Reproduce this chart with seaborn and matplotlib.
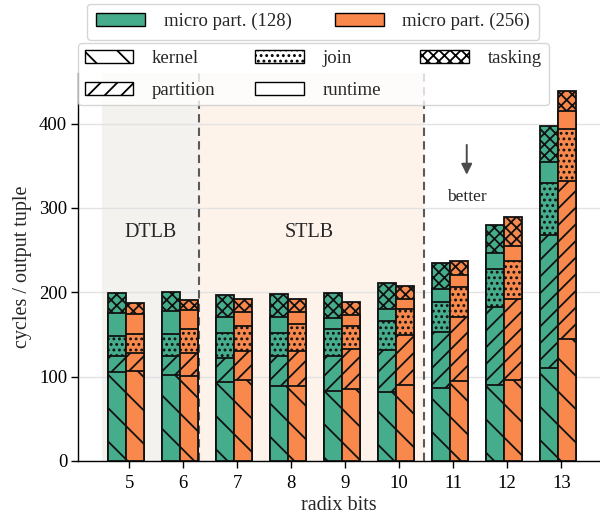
import numpy as np
import pandas as pd
import matplotlib
matplotlib.use('Agg')
import matplotlib.pyplot as plt
import seaborn as sns
from matplotlib.patches import Patch

radix_bits = [5, 6, 7, 8, 9, 10, 11, 12, 13]
variants = ['micro part. (128)', 'micro part. (256)']
components = ['kernel', 'partition', 'join', 'runtime', 'tasking']

# cycles per output tuple, one list per component
kernel_128 = [106, 102, 94, 89, 83, 82, 87, 90, 110]
partition_128 = [18.5, 22, 28, 35, 42, 50, 65.5, 93, 158]
join_128 = [23.5, 26, 30, 28, 31, 33.5, 36.5, 45, 62]
runtime_128 = [28, 28, 19, 19, 14, 14.5, 15, 18, 24]
tasking_128 = [23, 22, 26, 27, 29, 31, 31, 34, 43]

kernel_256 = [107, 101, 96, 89, 85, 90, 95, 96, 145]
partition_256 = [21, 27, 34, 41, 48, 59, 76, 96, 187]
join_256 = [23, 28, 30, 32, 27, 31, 35, 45, 61]
runtime_256 = [23, 22.5, 17, 14.5, 13, 12, 14, 18, 22]
tasking_256 = [13, 12.5, 15, 15.5, 15, 15, 17, 34, 23]

sns.set_style('ticks')
plt.rcParams['font.family'] = ['Liberation Serif', 'DejaVu Serif']
plt.rcParams['hatch.linewidth'] = 1.3

colors = ['#45ad8c', '#f8884b']
hatches = {'kernel': '\\', 'partition': '//', 'join': '...', 'runtime': '', 'tasking': 'xxx'}

parts = {
    variants[0]: [kernel_128, partition_128, join_128, runtime_128, tasking_128],
    variants[1]: [kernel_256, partition_256, join_256, runtime_256, tasking_256],
}
rows = []
for v in variants:
    cum = np.zeros(len(radix_bits))
    for comp, vals in zip(components, parts[v]):
        cum = cum + np.array(vals)
        for r, top in zip(radix_bits, cum):
            rows.append({'radix': r, 'variant': v, 'component': comp, 'top': top})
df = pd.DataFrame(rows)

fig = plt.figure(figsize=(6.0, 5.19), dpi=100)
ax = fig.add_axes([0.1305, 0.1118, 0.8695, 0.7477])

# TLB regions
ax.axvspan(4.556, 6.363, color='#f3f2ef', zorder=0, lw=0)
ax.axvspan(6.363, 10.524, color='#fef3ea', zorder=0, lw=0)
for xv in [6.363, 10.524]:
    ax.axvline(xv, color='#5a5a5a', ls=(0, (4, 2.5)), lw=1.5, zorder=1)

# stacked bars: draw cumulative tops from the top layer down
for comp in reversed(components):
    sub = df[df['component'] == comp]
    sns.barplot(data=sub, x='radix', y='top', hue='variant', hue_order=variants,
                palette=colors, native_scale=True, width=0.667, dodge=True,
                saturation=1, errorbar=None, edgecolor='#111111', linewidth=1.3,
                hatch=hatches[comp], legend=False, ax=ax, zorder=3)

ax.set_xlim(4.122, 13.783)
ax.set_ylim(0, 460)
ax.set_xticks(np.array(radix_bits) + 0.066)
ax.set_xticklabels([str(r) for r in radix_bits], fontsize=13.5)
ax.set_yticks([0, 100, 200, 300, 400])
ax.tick_params(axis='y', labelsize=13.5, length=5, width=1, colors='black', pad=3)
ax.tick_params(axis='x', length=5, width=1, colors='black', pad=5)
ax.set_xlabel('radix bits', fontsize=14.5, labelpad=3)
ax.set_ylabel('cycles / output tuple', fontsize=14.5, labelpad=5)
ax.yaxis.grid(True, color='#e2e2e2', lw=1)
ax.set_axisbelow(True)
sns.despine(ax=ax)
for s in ['left', 'bottom']:
    ax.spines[s].set_color('black')
    ax.spines[s].set_linewidth(1)

ax.text(5.46, 271, 'DTLB', ha='center', va='center', fontsize=14.5)
ax.text(8.40, 271, 'STLB', ha='center', va='center', fontsize=14.5)
ax.annotate('', xy=(11.315, 336), xytext=(11.315, 378),
            arrowprops=dict(arrowstyle='-|>', color='#4a4a4a', lw=1.4, mutation_scale=16))
ax.text(11.315, 313, 'better', ha='center', va='center', fontsize=12.5)

color_handles = [Patch(facecolor=c, edgecolor='black', label=v) for c, v in zip(colors, variants)]
fig.legend(handles=color_handles, loc='upper center', bbox_to_anchor=(0.522, 0.993),
           ncol=2, fontsize=13.5, handlelength=2.6, handletextpad=1.0, columnspacing=2.3,
           borderpad=0.5, borderaxespad=0)

hatch_handles = [Patch(facecolor='white', edgecolor='black', hatch=hatches[c], label=c)
                 for c in components]
fig.legend(handles=hatch_handles, loc='upper left', bbox_to_anchor=(0.13, 0.917),
           ncol=3, fontsize=13.5, handlelength=2.6, handletextpad=1.0, columnspacing=2.1,
           labelspacing=0.8, borderpad=0.35, borderaxespad=0)

fig.savefig('out.png', dpi=100)
